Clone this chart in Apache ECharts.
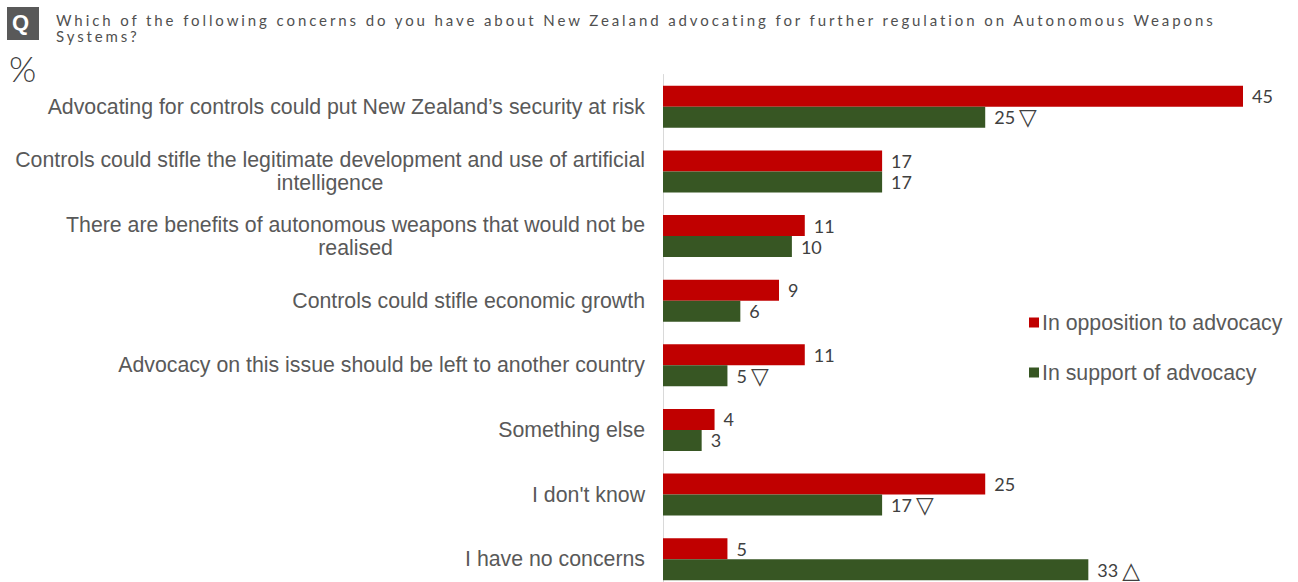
<!DOCTYPE html>
<html>
<head>
<meta charset="utf-8">
<script src="https://cdn.jsdelivr.net/npm/echarts@6/dist/echarts.min.js"></script>
<style>
  html, body { margin: 0; padding: 0; background: #fff; }
  #chart { width: 1298px; height: 582px; }
  #chart text[style*="qtitlefont"] { letter-spacing: 2.9px; }
</style>
</head>
<body>
<div id="chart"></div>
<script>
const titleLines = [
  'Which of the following concerns do you have about New Zealand advocating for further regulation on Autonomous Weapons',
  'Systems?'
];
const categories = [
  'Advocating for controls could put New Zealand\u2019s security at risk',
  'Controls could stifle the legitimate development and use of artificial\nintelligence',
  'There are benefits of autonomous weapons that would not be\nrealised',
  'Controls could stifle economic growth',
  'Advocacy on this issue should be left to another country',
  'Something else',
  'I don\'t know',
  'I have no concerns'
];
const seriesNames = ['In opposition to advocacy', 'In support of advocacy'];
const oppositionValues = [45, 17, 11, 9, 11, 4, 25, 5];
const supportValues = [25, 17, 10, 6, 5, 3, 17, 33];
const supportMarks = ['\u25BD', '', '', '', '\u25BD', '', '\u25BD', '\u25B3'];

const chart = echarts.init(document.getElementById('chart'), null, { renderer: 'svg' });

const labelFont = '"Liberation Sans", Arial, sans-serif';
const valueFont = 'Lato, "Open Sans", sans-serif';

chart.setOption({
  animation: false,
  backgroundColor: '#ffffff',
  graphic: [
    { type: 'rect', left: 7, top: 7, shape: { width: 32, height: 33 }, style: { fill: '#595959' } },
    { type: 'text', left: 12, top: 11, style: { text: 'Q', fill: '#ffffff', font: 'bold 22px "Liberation Sans", Arial, sans-serif' } },
    { type: 'text', left: 56, top: 12, style: { text: titleLines.join('\n'), fill: '#505050', lineHeight: 16, fontSize: 15, fontFamily: 'Lato, qtitlefont' } },
    { type: 'text', left: 9, top: 50, style: { text: '%', fill: '#404040', fontSize: 35, fontFamily: 'Lato, sans-serif', fontWeight: 300 } }
  ],
  legend: {
    orient: 'vertical',
    left: 1024,
    top: 307,
    itemWidth: 10,
    itemHeight: 10,
    itemGap: 29,
    icon: 'rect',
    textStyle: { fontSize: 21.3, fontFamily: labelFont, color: '#595959', padding: [0, 0, 0, -2] },
    data: seriesNames
  },
  grid: { left: 663, top: 74.5, width: 580, height: 517, outerBoundsMode: 'none', containLabel: false },
  xAxis: {
    type: 'value',
    min: 0,
    max: 45,
    show: false
  },
  yAxis: {
    type: 'category',
    inverse: true,
    data: categories,
    axisLine: { show: true, lineStyle: { color: '#d9d9d9', width: 1 } },
    axisTick: { show: false },
    splitLine: { show: false },
    axisLabel: {
      margin: 18,
      formatter: function (v) {
        return v.split('\n').map(function (l) { return '{c|' + l + '}'; }).join('\n');
      },
      rich: {
        c: { align: 'center', fontSize: 21.3, fontFamily: labelFont, color: '#595959', lineHeight: 23 }
      }
    }
  },
  series: [
    {
      name: seriesNames[0],
      type: 'bar',
      data: oppositionValues,
      barWidth: 21,
      barGap: '0%',
      itemStyle: { color: '#C00000' },
      label: {
        show: true, position: 'right', distance: 9,
        fontSize: 18, fontFamily: valueFont, color: '#404040'
      }
    },
    {
      name: seriesNames[1],
      type: 'bar',
      data: supportValues,
      barWidth: 21,
      barGap: '0%',
      itemStyle: { color: '#375623' },
      label: {
        show: true, position: 'right', distance: 9,
        fontSize: 18, fontFamily: valueFont, color: '#404040',
        formatter: function (p) {
          const m = supportMarks[p.dataIndex];
          return '{v|' + p.value + '}' + (m ? '{t|' + m + '}' : '');
        },
        rich: {
          v: { fontSize: 18, fontFamily: valueFont, color: '#404040', padding: [0, 4, 0, 0] },
          t: { fontSize: 23, fontFamily: '"DejaVu Sans", sans-serif', color: '#404040' }
        }
      }
    }
  ]
});
</script>
</body>
</html>
